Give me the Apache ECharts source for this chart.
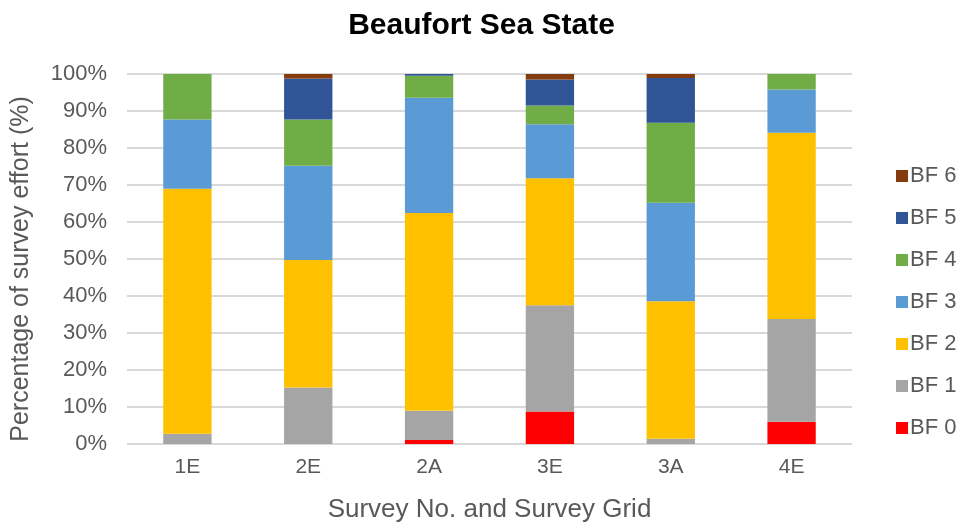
<!DOCTYPE html>
<html>
<head>
<meta charset="utf-8">
<script src="https://cdn.jsdelivr.net/npm/echarts@6/dist/echarts.min.js"></script>
<style>
  html, body { margin: 0; padding: 0; background: #fff; }
  #chart { width: 963px; height: 529px; }
</style>
</head>
<body>
<div id="chart"></div>
<script>
// survey grids
const grids = ['1E', '2E', '2A', '3E', '3A', '4E'];

// % of survey effort per Beaufort level
const bf0 = [0, 0, 1.1, 8.8, 0, 6.0];
const bf1 = [2.8, 15.3, 7.9, 28.7, 1.4, 27.8];
const bf2 = [66.2, 34.4, 53.4, 34.3, 37.2, 50.3];
const bf3 = [18.7, 25.5, 31.2, 14.6, 26.6, 11.7];
const bf4 = [12.3, 12.5, 5.9, 5.1, 21.6, 4.2];
const bf5 = [0, 11.1, 0.5, 7.0, 12.1, 0];
const bf6 = [0, 1.2, 0, 1.5, 1.1, 0];

const levels = [
  { name: 'BF 0', data: bf0, color: '#ff0000' },
  { name: 'BF 1', data: bf1, color: '#a5a5a5' },
  { name: 'BF 2', data: bf2, color: '#ffc000' },
  { name: 'BF 3', data: bf3, color: '#5b9bd5' },
  { name: 'BF 4', data: bf4, color: '#70ad47' },
  { name: 'BF 5', data: bf5, color: '#2f5597' },
  { name: 'BF 6', data: bf6, color: '#843c0c' }
];

const myChart = echarts.init(document.getElementById('chart'));
const textGrey = '#595959';
const font = 'Liberation Sans';

const option = {
  backgroundColor: '#fff',
  animation: false,
  title: {
    text: 'Beaufort Sea State',
    left: 'center',
    top: 6,
    textStyle: { fontFamily: font, fontSize: 30, fontWeight: 'bold', color: '#000' }
  },
  legend: {
    orient: 'vertical',
    left: 891,
    top: 160,
    itemWidth: 12,
    itemHeight: 12,
    itemGap: 20,
    icon: 'rect',
    data: levels.map(l => l.name).reverse(),
    textStyle: { fontFamily: font, fontSize: 22, color: textGrey, padding: [0, 0, 0, -3] }
  },
  grid: { left: 127, right: 111, top: 74, bottom: 85 },
  xAxis: {
    type: 'category',
    data: grids,
    name: 'Survey No. and Survey Grid',
    nameLocation: 'middle',
    nameGap: 53,
    nameTextStyle: { fontFamily: font, fontSize: 26, color: textGrey },
    axisLine: { show: false },
    axisTick: { show: false },
    axisLabel: { fontFamily: font, fontSize: 21, color: textGrey, margin: 13 }
  },
  yAxis: {
    type: 'value',
    min: 0,
    max: 100,
    interval: 10,
    name: 'Percentage of survey effort (%)',
    nameLocation: 'middle',
    nameGap: 93,
    nameTextStyle: { fontFamily: font, fontSize: 25, color: textGrey, padding: [0, 20, 0, 0] },
    axisLine: { show: false },
    axisTick: { show: false },
    axisLabel: { fontFamily: font, fontSize: 22, color: textGrey, margin: 20, formatter: '{value}%' },
    splitLine: { lineStyle: { color: '#d9d9d9', width: 2 } }
  },
  series: levels.map(l => ({
    name: l.name,
    type: 'bar',
    stack: 'bf',
    barWidth: '40%',
    data: l.data,
    itemStyle: { color: l.color }
  }))
};

myChart.setOption(option);
</script>
</body>
</html>
